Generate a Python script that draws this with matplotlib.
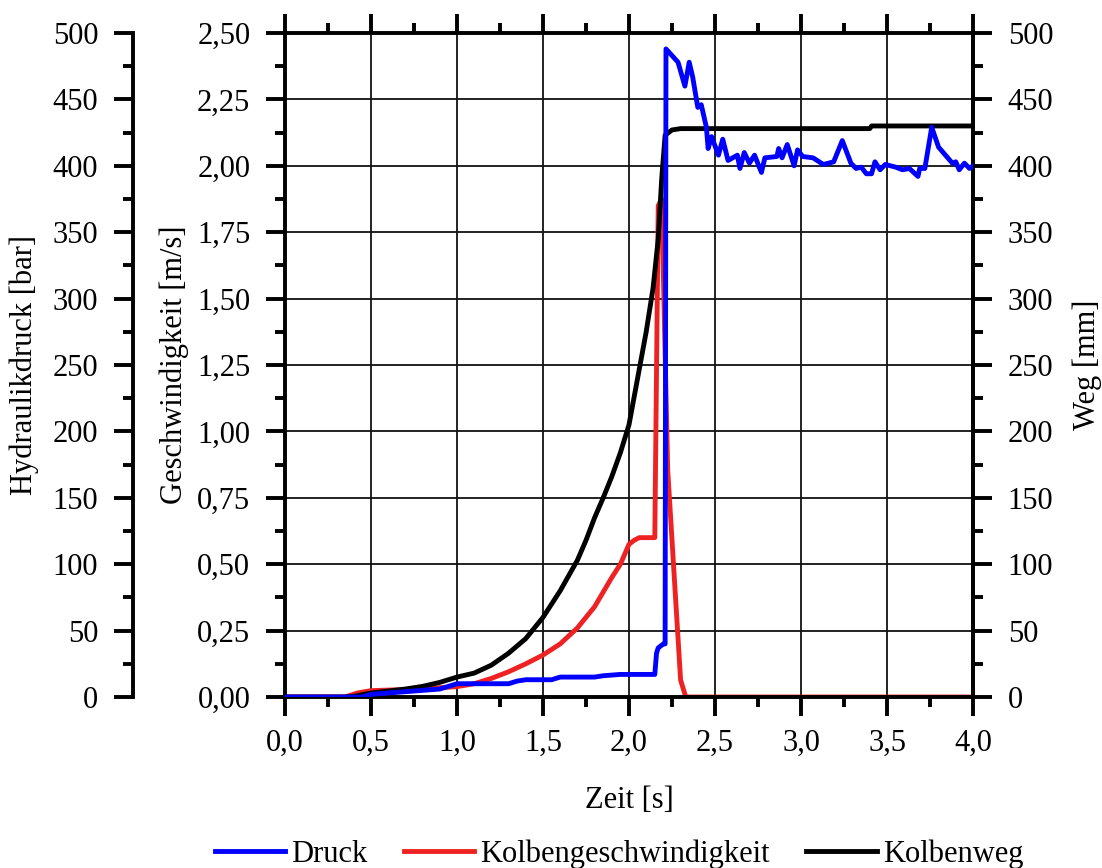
import numpy as np
import matplotlib.pyplot as plt
from matplotlib.ticker import MultipleLocator, FuncFormatter

plt.rcParams["font.family"] = ["Liberation Serif", "DejaVu Serif"]
plt.rcParams["font.size"] = 22

# Kolbengeschwindigkeit [m/s]
t_vel = [0.0, 0.35, 0.42, 0.5, 0.6, 0.7, 0.8, 0.9, 1.0, 1.1, 1.2, 1.3, 1.4,
         1.5, 1.6, 1.7, 1.8, 1.9, 1.95, 2.0, 2.03, 2.06, 2.15, 2.17, 2.19,
         2.225, 2.30, 2.33, 4.0]
vel = [0.0, 0.0, 0.015, 0.024, 0.026, 0.028, 0.031, 0.035, 0.039, 0.05, 0.07,
       0.095, 0.125, 0.158, 0.20, 0.26, 0.34, 0.45, 0.50, 0.575, 0.59, 0.60,
       0.60, 1.85, 1.875, 0.855, 0.064, 0.0, 0.0]

# Kolbenweg [mm]
t_weg = [0.0, 0.35, 0.4, 0.5, 0.6, 0.7, 0.8, 0.9, 1.0, 1.1, 1.2, 1.3, 1.4,
         1.5, 1.6, 1.7, 1.75, 1.8, 1.85, 1.9, 1.95, 2.0, 2.05, 2.1, 2.14,
         2.17, 2.19, 2.21, 2.25, 2.30, 3.40, 3.41, 4.0]
weg = [0.0, 0.0, 0.5, 3, 4.5, 6, 8, 11, 15, 18, 24, 33, 44, 60, 80, 103, 118,
       135, 150, 166, 184, 205, 240, 275, 308, 345, 390, 423, 427, 428, 428,
       430, 430]

# Hydraulikdruck [bar]
t_p = [0.0, 0.45, 0.5, 0.7, 0.9, 1.0, 1.3, 1.35, 1.4, 1.55, 1.6, 1.8, 1.85,
       1.95, 2.15, 2.16, 2.17, 2.2, 2.21, 2.215, 2.285, 2.325, 2.35, 2.37,
       2.40, 2.42, 2.45, 2.46, 2.48, 2.52, 2.545, 2.576, 2.63, 2.645, 2.67,
       2.70, 2.73, 2.77, 2.79, 2.86, 2.87, 2.89, 2.92, 2.96, 2.98, 3.01,
       3.07, 3.13, 3.19, 3.24, 3.29, 3.32, 3.35, 3.38, 3.41, 3.43, 3.46,
       3.49, 3.55, 3.59, 3.63, 3.68, 3.69, 3.72, 3.76, 3.80, 3.84, 3.88,
       3.90, 3.92, 3.95, 3.98, 4.0]
druck = [0, 0, 2, 4, 6, 10, 10, 12, 13, 13, 15, 15, 16, 17, 17, 33, 37, 40,
         40, 488, 478, 460, 478, 467, 444, 446, 429, 413, 422, 408, 420, 404,
         408, 398, 410, 402, 408, 395, 406, 407, 413, 406, 416, 400, 412, 407,
         406, 401, 403, 419, 402, 398, 399, 394, 394, 403, 397, 401, 399, 397,
         398, 392, 398, 398, 429, 414, 408, 402, 403, 397, 402, 398, 400]

labels = ["Druck", "Kolbengeschwindigkeit", "Kolbenweg"]
colors = ["#0000ff", "#ee2222", "#000000"]

W, H = 1102, 868
fig = plt.figure(figsize=(W / 100, H / 100), dpi=100)
ax = fig.add_axes([285 / W, 1 - 697 / H, 688 / W, 664 / H])
ax_w = ax.twinx()
ax_p = ax.twinx()

lw_spine = 2.8
major = dict(direction="out", length=14, width=lw_spine)
minor = dict(direction="out", length=7, width=lw_spine)


def comma(fmt):
    return FuncFormatter(lambda v, _: format(v, fmt).replace(".", ","))


# time axis / velocity axis
ax.set_xlim(0, 4.0)
ax.set_ylim(0, 2.5)
ax.xaxis.set_major_locator(MultipleLocator(0.5))
ax.xaxis.set_minor_locator(MultipleLocator(0.25))
ax.yaxis.set_major_locator(MultipleLocator(0.25))
ax.yaxis.set_minor_locator(MultipleLocator(0.125))
ax.xaxis.set_major_formatter(comma(".1f"))
ax.yaxis.set_major_formatter(comma(".2f"))
ax.tick_params(axis="x", which="major", top=True, pad=9, **major)
ax.tick_params(axis="x", which="minor", top=True, **minor)
ax.tick_params(axis="y", which="major", pad=11, **major)
ax.tick_params(axis="y", which="minor", **minor)
ax.grid(True, which="major", color="#111111", linewidth=1.3)
ax.set_axisbelow(True)
for s in ax.spines.values():
    s.set_linewidth(lw_spine)
ax.set_xlabel("Zeit [s]", labelpad=20)
ax.set_ylabel("Geschwindigkeit [m/s]", labelpad=6)

# Weg axis on the right
ax_w.set_ylim(0, 500)
ax_w.yaxis.set_major_locator(MultipleLocator(50))
ax_w.yaxis.set_minor_locator(MultipleLocator(25))
ax_w.tick_params(axis="y", which="major", pad=11, **major)
ax_w.tick_params(axis="y", which="minor", **minor)
ax_w.spines["right"].set_linewidth(lw_spine)
for k in ("left", "top", "bottom"):
    ax_w.spines[k].set_visible(False)
ax_w.set_ylabel("Weg [mm]", labelpad=14)

# pressure axis, offset to the left
ax_p.set_ylim(0, 500)
ax_p.spines["left"].set_position(("axes", -152 / 688))
ax_p.spines["left"].set_visible(True)
ax_p.spines["left"].set_linewidth(lw_spine)
for k in ("right", "top", "bottom"):
    ax_p.spines[k].set_visible(False)
ax_p.yaxis.set_ticks_position("left")
ax_p.yaxis.set_label_position("left")
ax_p.yaxis.set_major_locator(MultipleLocator(50))
ax_p.yaxis.set_minor_locator(MultipleLocator(25))
ax_p.tick_params(axis="y", which="major", pad=11, **major)
ax_p.tick_params(axis="y", which="minor", **minor)
ax_p.set_ylabel("Hydraulikdruck [bar]", labelpad=10)

lw = 3.5
h_v, = ax.plot(t_vel, vel, color=colors[1], lw=lw, label=labels[1])
h_w, = ax_w.plot(t_weg, weg, color=colors[2], lw=lw, label=labels[2])
h_p, = ax_p.plot(t_p, druck, color=colors[0], lw=lw, label=labels[0])

fig.legend([h_p, h_v, h_w], labels, loc="lower center",
           bbox_to_anchor=(619 / W, -0.033), ncol=3, frameon=False,
           handlelength=2.3, handletextpad=0.2, columnspacing=1.2)

fig.savefig("out.png", dpi=100)
